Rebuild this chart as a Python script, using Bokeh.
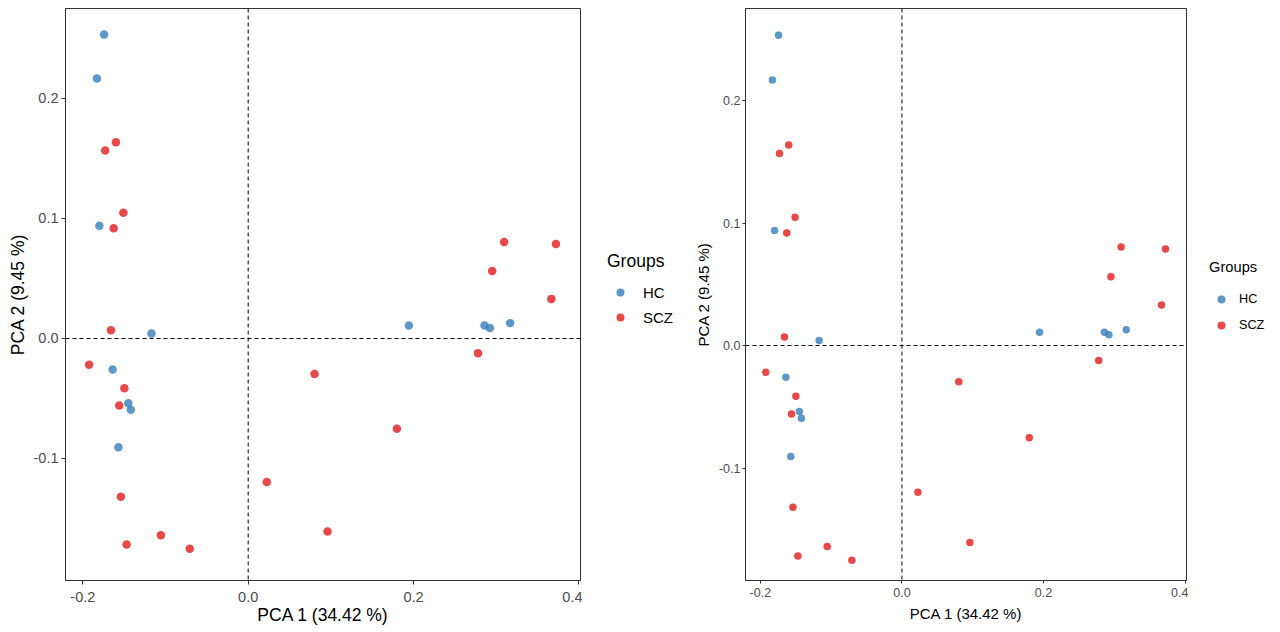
from bokeh.plotting import figure
from bokeh.models import Span, Legend, LegendItem, FixedTicker, Range1d
from bokeh.layouts import row
from bokeh.embed import file_html
from bokeh.resources import INLINE

# ---- data ----
groups = ["HC", "SCZ"]
hc_pc1 = [-0.1743, -0.183, -0.180, -0.117, -0.164, -0.145, -0.142, -0.157,
          0.1944, 0.2859, 0.2924, 0.3169]
hc_pc2 = [0.2533, 0.2167, 0.0939, 0.0042, -0.0258, -0.0539, -0.0594, -0.0906,
          0.0108, 0.0108, 0.0088, 0.0128]
scz_pc1 = [-0.173, -0.160, -0.151, -0.1627, -0.166, -0.1924, -0.1498, -0.156,
           -0.154, -0.147, -0.1056, -0.0707, 0.0225, 0.0803, 0.096,
           0.3096, 0.3723, 0.2952, 0.3667, 0.278, 0.1799]
scz_pc2 = [0.1567, 0.1636, 0.1047, 0.0919, 0.0069, -0.0219, -0.0414, -0.0558,
           -0.132, -0.1717, -0.164, -0.1753, -0.1197, -0.0296, -0.1608,
           0.0804, 0.0787, 0.0562, 0.0330, -0.0123, -0.0752]
x_ticks = [-0.2, 0.0, 0.2, 0.4]
x_tick_labels = ["-0.2", "0.0", "0.2", "0.4"]
y_ticks = [-0.1, 0.0, 0.1, 0.2]
y_tick_labels = ["-0.1", "0.0", "0.1", "0.2"]
x_title = "PCA 1 (34.42 %)"
y_title = "PCA 2 (9.45 %)"
legend_title = "Groups"
colors = ["#377EB8", "#E41A1C"]

FONT = "Liberation Sans"
H = 632
MBT = 8
MBB = 52


def make_panel(w, mbl, mbr, y_lo, y_hi, tick_fs, title_fs, pt_size, tick_out,
               label_standoff, title_standoff):
    p = figure(width=w, height=H, output_backend="svg", toolbar_location=None,
               x_range=Range1d(-0.221, 0.402), y_range=Range1d(y_lo, y_hi),
               min_border_left=mbl, min_border_right=mbr, min_border_top=MBT,
               min_border_bottom=MBB)
    p.xgrid.visible = False
    p.ygrid.visible = False
    p.outline_line_color = "#333333"
    p.outline_line_width = 1

    for sp in [Span(location=0, dimension="height"), Span(location=0, dimension="width")]:
        sp.line_color = "black"
        sp.line_dash = "4 3"
        sp.line_width = 1
        sp.level = "underlay"
        p.add_layout(sp)

    p.scatter(hc_pc1, hc_pc2, size=pt_size, fill_color=colors[0], fill_alpha=0.8,
              line_color=None)
    p.scatter(scz_pc1, scz_pc2, size=pt_size, fill_color=colors[1], fill_alpha=0.8,
              line_color=None)

    p.xaxis.ticker = FixedTicker(ticks=x_ticks)
    p.yaxis.ticker = FixedTicker(ticks=y_ticks)
    p.xaxis.major_label_overrides = dict(zip(x_ticks, x_tick_labels))
    p.yaxis.major_label_overrides = dict(zip(y_ticks, y_tick_labels))
    for ax in [p.xaxis, p.yaxis]:
        ax.axis_label_text_font = FONT
        ax.axis_label_text_font_style = "normal"
        ax.axis_label_text_font_size = f"{title_fs}px"
        ax.axis_label_text_color = "black"
        ax.major_label_text_font = FONT
        ax.major_label_text_font_size = f"{tick_fs}px"
        ax.major_label_text_color = "#4D4D4D"
        ax.axis_line_color = "#333333"
        ax.major_tick_line_color = "#333333"
        ax.major_tick_in = 0
        ax.major_tick_out = tick_out
        ax.minor_tick_line_color = None
    p.xaxis.major_label_standoff = label_standoff[0]
    p.xaxis.axis_label_standoff = title_standoff[0]
    p.yaxis.major_label_standoff = label_standoff[1]
    p.yaxis.axis_label_standoff = title_standoff[1]
    p.xaxis.axis_label = x_title
    p.yaxis.axis_label = y_title
    p.yaxis.major_label_orientation = "horizontal"
    return p


def make_legend_fig(w, loc, title_fs, label_fs, pt_size, pad, glyph_w, standoff,
                    spacing, title_standoff):
    f = figure(width=w, height=H, output_backend="svg", toolbar_location=None,
               x_range=Range1d(0, 1), y_range=Range1d(0, 1),
               x_axis_type=None, y_axis_type=None,
               min_border_left=0, min_border_right=0, min_border_top=MBT,
               min_border_bottom=MBB)
    f.outline_line_color = None
    f.grid.visible = False
    # legend keys: one marker each, placed outside the visible range
    r_hc = f.scatter(x=[0.5], y=[-10], size=pt_size, fill_color=colors[0], fill_alpha=0.8,
                     line_color=None)
    r_scz = f.scatter(x=[0.5], y=[-10], size=pt_size, fill_color=colors[1], fill_alpha=0.8,
                      line_color=None)
    legend = Legend(items=[LegendItem(label=groups[0], renderers=[r_hc]),
                           LegendItem(label=groups[1], renderers=[r_scz])],
                    location=loc, title=legend_title)
    legend.title_text_font = FONT
    legend.title_text_font_style = "normal"
    legend.title_text_font_size = f"{title_fs}px"
    legend.title_text_color = "black"
    legend.title_standoff = title_standoff
    legend.label_text_font = FONT
    legend.label_text_font_size = f"{label_fs}px"
    legend.label_text_color = "black"
    legend.border_line_color = None
    legend.background_fill_alpha = 0
    legend.margin = 0
    legend.padding = pad
    legend.glyph_width = glyph_w
    legend.glyph_height = 20
    legend.label_height = 20
    legend.label_standoff = standoff
    legend.spacing = spacing
    f.add_layout(legend)
    return f


left = make_panel(w=582, mbl=65, mbr=2, y_lo=-0.2017, y_hi=0.275, tick_fs=14.5,
                  title_fs=17.5, pt_size=8.5, tick_out=4, label_standoff=(7, 3),
                  title_standoff=(0, 3))
left_leg = make_legend_fig(w=108, loc=(25, 253), title_fs=17.5, label_fs=15, pt_size=8.5,
                           pad=10, glyph_w=26, standoff=10, spacing=5, title_standoff=10)
right = make_panel(w=498, mbl=55, mbr=2, y_lo=-0.1918, y_hi=0.2751, tick_fs=12.5,
                   title_fs=15, pt_size=7.5, tick_out=3, label_standoff=(4, 2),
                   title_standoff=(5, 4))
right_leg = make_legend_fig(w=90, loc=(21, 245), title_fs=14.7, label_fs=12.7, pt_size=7.5,
                            pad=7, glyph_w=24, standoff=6, spacing=6, title_standoff=14)

layout = row(left, left_leg, right, right_leg)
open("out.html", "w").write(file_html(layout, INLINE))
